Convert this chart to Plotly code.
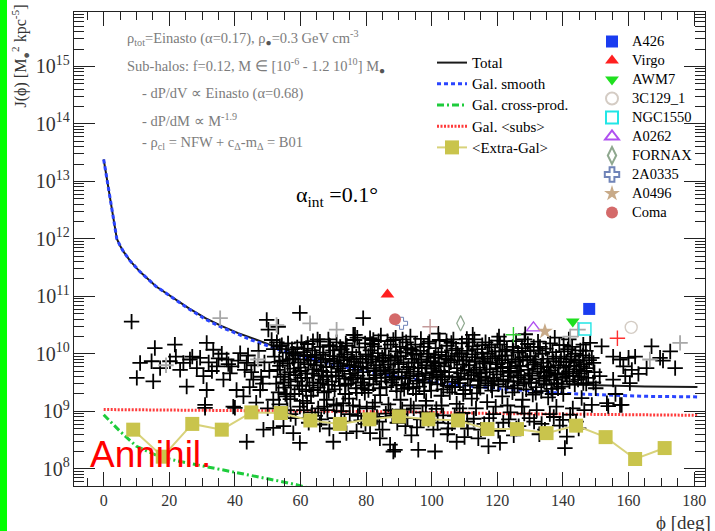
import numpy as np
import plotly.graph_objects as go

SERIF = "Liberation Serif"

# ---------------- curves (phi in deg, values as log10 J) ----------------
phi_curve = [0, 1, 2, 3, 4, 5, 6, 8, 11, 16, 21, 26, 31, 36, 41, 45, 50, 57, 65, 75,
             85, 95, 105, 115, 125, 135, 145, 155, 165, 181]
log_smooth = [13.38, 13.02, 12.66, 12.32, 12.00, 11.88, 11.78, 11.62, 11.43, 11.17, 10.97,
              10.78, 10.60, 10.46, 10.34, 10.24, 10.14, 10.00, 9.88, 9.75, 9.64, 9.55, 9.47,
              9.42, 9.37, 9.33, 9.30, 9.28, 9.26, 9.25]
log_total = [13.38, 13.02, 12.66, 12.32, 12.00, 11.88, 11.78, 11.62, 11.43, 11.17, 10.98,
             10.79, 10.62, 10.48, 10.36, 10.27, 10.17, 10.04, 9.93, 9.81, 9.72, 9.65, 9.59,
             9.55, 9.51, 9.48, 9.46, 9.44, 9.43, 9.42]
phi_subs = [0, 30, 60, 90, 120, 150, 181]
log_subs = [9.03, 9.02, 9.01, 8.99, 8.96, 8.94, 8.93]
phi_crossprod = [0, 5, 10, 17, 23, 33, 44, 54, 59, 64]
log_crossprod = [8.94, 8.65, 8.39, 8.21, 8.13, 8.02, 7.90, 7.78, 7.72, 7.64]

phi_extragal = [9, 18, 27, 36, 45, 54, 63, 72, 81, 90, 99, 108, 117, 126, 135, 144, 153, 162, 171]
log_extragal = [8.68, 8.21, 8.78, 8.68, 8.98, 8.97, 8.84, 8.78, 8.86, 8.91, 8.86, 8.84, 8.69,
                8.69, 8.62, 8.75, 8.55, 8.17, 8.36]

# ---------------- galaxy clusters ----------------
cluster_names = ["A426", "Virgo", "AWM7", "3C129_1", "NGC1550", "A0262", "FORNAX", "2A0335", "A0496", "Coma"]
cluster_phi = [148.0, 86.5, 143.0, 160.8, 146.7, 131.0, 108.8, 90.8, 134.5, 88.8]
cluster_log = [10.78, 11.03, 10.56, 10.46, 10.43, 10.45, 10.53, 10.53, 10.39, 10.60]
cluster_symbols = ["square", "triangle-up", "triangle-down", "circle-open", "square-open",
                   "triangle-up-open", "diamond-tall-open", "cross-open", "star", "circle"]
cluster_colors = ["#1a3cf0", "#ff2020", "#1fe01f", "#d4ccc4", "#22e6e6", "#b050f0",
                  "#8fa88f", "#7084b8", "#c8aa88", "#d46a6a"]
cluster_sizes = [12, 12, 12, 12, 12, 12, 11, 10, 12, 12]
cluster_linew = [0, 0, 0, 1.4, 1.4, 1.4, 1.2, 1.0, 0, 0]

# other (unlabelled) coloured crosses
other_phi = [99.5, 124.9, 156.6]
other_log = [10.47, 10.33, 10.27]
other_colors = ["#c49a9a", "#33cc33", "#ff3030"]

# ---------------- sub-halo crosses (phi, log10 J) ----------------
crosses_gray = [(35.5, 10.62), (52.7, 10.50), (62.9, 10.53), (71.0, 10.42), (142.2, 10.30),
                (175.7, 10.19), (166.5, 9.90), (144.6, 10.42), (19.0, 9.80), (47.0, 9.90)]

crosses_sparse = [
    (8.5, 10.56), (15.6, 10.10), (21.7, 10.16), (11.1, 9.84), (14.6, 9.87), (17.2, 9.75), (20.2, 9.87),
    (10.1, 9.58), (15.1, 9.52), (24.3, 9.84), (26.3, 9.90), (23.3, 9.72), (25.3, 9.43), (29.4, 9.93),
    (31.4, 10.19), (33.4, 10.07), (28.4, 9.75), (30.4, 9.61), (31.4, 9.37), (30.9, 9.06), (34.5, 9.78),
    (37.5, 9.90), (36.5, 9.55), (38.5, 9.66), (39.5, 9.08), (40.5, 9.37), (41.6, 10.01), (43.6, 9.84),
    (45.6, 9.55), (42.6, 9.26), (47.7, 9.37), (49.7, 10.59), (50.2, 10.42), (51.2, 10.24), (53.7, 10.13),
    (59.8, 10.71), (65.9, 10.21), (76.1, 10.33), (79.1, 10.62), (82.2, 10.24), (88.3, 10.24), (51.7, 9.20),
    (55.8, 9.26), (59.8, 9.08), (63.9, 9.37), (68.0, 9.20), (73.0, 9.14), (77.1, 9.32), (53.2, 10.47),
    (76.6, 10.33), (27.0, 9.95), (32.0, 9.85), (35.0, 9.92), (36.0, 10.00), (39.0, 9.78), (41.0, 9.88),
    (44.0, 9.97), (46.0, 9.80), (47.2, 10.05), (45.0, 9.68), (43.0, 9.72), (48.0, 9.60), (38.0, 9.82),
    (33.0, 9.70), (22.0, 9.95), (49.0, 9.85), (50.5, 9.70), (48.5, 9.48), (44.5, 9.42),
]

crosses_low = [
    (43.6, 8.47), (48.7, 8.68), (51.7, 8.71), (54.8, 8.74), (57.8, 8.62), (59.8, 8.45), (70.0, 8.47),
    (65.9, 8.77), (77.1, 8.65), (84.2, 8.53), (87.3, 8.42), (88.3, 8.30), (81.2, 8.62), (95.9, 8.33),
    (101.0, 8.30), (117.3, 8.39), (120.8, 8.45), (114.2, 8.53), (140.6, 8.36), (141.2, 8.56),
    (107.6, 8.47), (88.8, 8.33), (40.0, 9.06), (30.9, 9.11),
    (61.0, 9.02), (64.5, 8.92), (67.2, 9.08), (70.5, 8.88), (72.4, 9.00), (75.0, 8.95), (78.5, 8.84),
    (80.2, 9.05), (83.3, 8.90), (86.0, 8.96), (89.5, 8.80), (91.0, 9.03), (92.6, 8.88), (95.5, 8.72),
    (97.2, 8.98), (99.0, 8.85), (100.5, 8.68), (103.5, 8.93), (106.2, 8.79), (109.5, 8.97), (111.0, 8.70),
    (112.8, 8.87), (116.0, 8.78), (118.8, 8.95), (120.3, 8.66), (123.5, 8.86), (126.5, 8.74),
    (128.2, 8.96), (131.2, 8.82), (134.5, 8.68), (137.2, 8.90), (139.0, 8.75), (142.2, 8.94),
    (144.0, 8.82), (57.0, 8.95), (62.5, 8.80), (68.8, 8.70), (74.0, 8.62), (85.0, 8.68), (93.8, 8.58),
    (104.8, 8.60), (110.0, 8.55), (125.0, 8.58), (132.8, 8.60),
    (46.5, 9.15), (50.0, 9.05), (53.5, 9.12), (56.0, 9.02), (58.5, 8.88), (62.0, 9.14), (63.5, 8.98),
    (66.3, 8.86), (68.2, 9.02), (71.0, 9.10), (73.4, 8.82), (76.0, 9.10), (77.5, 8.92), (79.8, 8.78),
    (82.0, 9.08), (84.0, 8.82), (86.8, 9.12), (88.0, 8.92), (90.5, 8.95), (92.0, 8.74), (94.5, 9.05),
    (96.6, 8.86), (98.2, 9.10), (100.0, 8.95), (101.8, 8.80), (103.0, 9.10), (105.0, 8.70), (107.0, 8.92),
    (108.5, 9.05), (110.8, 8.82), (113.5, 9.05), (115.0, 8.68), (117.5, 8.88), (119.5, 9.08),
    (121.8, 8.80), (124.0, 8.98), (125.8, 8.70), (127.5, 9.08), (129.8, 8.88), (132.0, 9.02),
    (133.5, 8.78), (136.0, 8.95), (138.0, 9.08), (140.0, 8.85), (143.0, 9.05), (144.8, 8.70), (146.5, 9.02),
]

crosses_right = [
    (145.7, 9.23), (148.8, 9.11), (153.8, 9.09), (157.4, 9.11), (167.0, 10.13), (169.6, 9.93),
    (172.7, 10.04), (174.2, 9.75), (165.5, 9.75), (162.0, 9.95), (160.0, 9.93), (160.4, 9.49),
    (151.8, 10.13), (148.3, 10.19), (155.3, 9.95), (157.4, 9.90), (158.4, 9.78), (159.0, 9.61),
    (153.4, 9.14), (157.9, 9.11), (161.0, 9.72), (146.2, 10.16), (149.3, 9.84), (151.2, 9.61),
    (146.2, 9.49), (155.3, 9.55), (170.5, 9.88), (150.0, 9.40), (156.0, 9.30), (163.0, 9.65),
    (84.5, 10.32), (93.5, 10.30), (102.0, 10.35), (112.5, 10.33), (120.5, 10.30), (128.5, 10.34),
    (137.5, 10.28), (141.8, 10.25),
]

crosses_core = [
    (52.1, 9.95), (53.0, 9.72), (52.6, 9.48), (51.8, 10.08), (53.3, 9.33),
    (54.6, 9.88), (53.9, 9.60), (54.3, 10.15), (55.0, 9.41), (53.7, 9.79),
    (55.6, 10.02), (56.4, 9.55), (56.1, 9.83), (55.4, 9.30), (56.8, 9.68), (56.2, 10.18),
    (57.7, 9.92), (57.0, 9.45), (58.0, 9.74), (57.4, 10.08), (56.9, 9.21),
    (59.3, 9.85), (58.5, 9.63), (59.0, 10.11), (59.6, 9.38), (58.4, 9.97), (59.1, 9.52),
    (60.0, 9.76), (60.9, 10.03), (60.5, 9.44), (61.1, 9.90), (60.2, 9.58), (60.7, 9.18),
    (62.2, 10.17), (61.5, 9.66), (62.4, 9.82), (61.7, 9.35), (62.0, 9.96),
    (63.1, 9.88), (63.9, 9.50), (63.6, 10.06), (64.1, 9.73), (63.2, 9.27), (63.8, 10.22),
    (65.5, 9.62), (64.8, 9.94), (65.3, 9.41), (65.9, 10.12), (64.9, 9.80), (65.4, 9.05),
    (66.2, 9.85), (67.0, 10.02), (66.7, 9.55), (66.4, 9.70), (67.2, 9.33), (66.9, 9.98),
    (68.7, 10.15), (67.9, 9.77), (68.4, 9.46), (68.9, 9.91), (68.1, 9.60), (68.5, 10.25),
    (69.4, 9.68), (70.2, 9.87), (69.9, 10.06), (70.4, 9.38), (69.6, 9.52), (70.1, 9.12),
    (71.8, 9.95), (71.0, 10.20), (71.5, 9.74), (72.0, 9.44), (71.2, 9.83), (71.7, 9.61),
    (72.6, 10.08), (73.4, 9.57), (73.1, 9.89), (73.6, 9.30), (72.8, 9.70), (73.3, 9.99),
    (74.9, 9.80), (74.1, 10.14), (74.6, 9.48), (75.1, 9.65), (74.3, 9.93), (74.8, 9.22),
    (75.8, 10.03), (76.6, 9.72), (76.3, 9.86), (76.9, 9.40), (76.0, 9.58), (76.5, 10.24),
    (78.2, 9.91), (77.4, 9.62), (77.9, 10.11), (78.4, 9.50), (77.6, 9.77), (78.0, 9.08),
    (78.9, 9.84), (79.7, 10.18), (79.4, 9.45), (79.9, 9.99), (79.1, 9.68), (79.6, 9.32),
    (81.3, 10.06), (80.5, 9.74), (81.0, 9.56), (81.5, 9.90), (80.7, 9.37), (81.2, 10.27),
    (82.0, 9.95), (82.8, 9.63), (82.5, 10.13), (83.0, 9.80), (82.2, 9.47), (82.7, 9.15),
    (84.4, 9.70), (83.6, 10.01), (84.1, 9.86), (84.6, 9.52), (83.8, 10.22), (84.3, 9.28),
    (85.2, 9.88), (86.0, 9.59), (85.7, 10.09), (86.2, 9.42), (85.4, 9.76), (85.9, 9.97),
    (87.5, 10.16), (86.7, 9.81), (87.2, 9.66), (87.7, 9.50), (86.9, 9.93), (87.4, 9.02),
    (88.3, 9.73), (89.1, 10.04), (88.8, 9.89), (89.3, 9.35), (88.5, 9.60), (89.0, 10.28),
    (90.6, 9.96), (89.8, 9.68), (90.3, 10.12), (90.8, 9.46), (90.0, 9.82), (90.5, 9.20),
    (91.4, 9.85), (92.2, 10.20), (91.9, 9.57), (92.4, 9.73), (91.6, 9.39), (92.1, 10.02),
    (93.7, 10.07), (92.9, 9.77), (93.4, 9.62), (93.9, 9.91), (93.1, 9.48), (93.6, 9.10),
    (94.5, 9.69), (95.3, 9.98), (95.0, 10.16), (95.5, 9.53), (94.7, 9.84), (95.2, 9.30),
    (96.8, 9.90), (96.0, 9.61), (96.5, 10.05), (97.0, 9.75), (96.2, 9.43), (96.7, 10.26),
    (97.6, 10.12), (98.4, 9.80), (98.1, 9.66), (98.6, 9.95), (97.8, 9.50), (98.3, 9.18),
    (99.9, 9.74), (99.1, 10.00), (99.6, 9.87), (100.1, 9.58), (99.3, 10.21), (99.8, 9.36),
    (100.7, 9.93), (101.5, 9.64), (101.2, 10.10), (101.7, 9.47), (100.9, 9.79), (101.4, 9.04),
    (103.0, 10.03), (102.2, 9.83), (102.7, 9.70), (103.2, 9.55), (102.4, 10.24), (102.9, 9.27),
    (103.8, 9.78), (104.6, 10.14), (104.3, 9.92), (104.8, 9.44), (104.0, 9.61), (104.5, 9.96),
    (106.1, 10.06), (105.3, 9.68), (105.8, 9.85), (106.3, 9.51), (105.5, 9.33), (106.0, 10.19),
    (106.9, 9.88), (107.7, 9.75), (107.4, 10.09), (107.9, 9.60), (107.1, 9.42), (107.6, 9.13),
    (109.2, 10.18), (108.4, 9.95), (108.9, 9.66), (109.4, 9.81), (108.6, 9.49), (109.1, 10.01),
    (110.0, 9.71), (110.8, 10.05), (110.5, 9.89), (111.0, 9.56), (110.2, 9.37), (110.7, 10.26),
    (112.3, 9.99), (111.5, 9.80), (112.0, 9.63), (112.5, 10.13), (111.7, 9.45), (112.2, 9.22),
    (113.1, 9.86), (113.9, 10.08), (113.6, 9.72), (114.1, 9.53), (113.3, 9.94), (113.8, 9.31),
    (115.4, 10.15), (114.6, 9.76), (115.1, 9.60), (115.6, 9.91), (114.8, 9.41), (115.3, 10.02),
    (116.2, 9.83), (117.0, 10.00), (116.7, 9.68), (117.2, 9.49), (116.4, 10.20), (116.9, 9.16),
    (118.5, 9.95), (117.7, 9.73), (118.2, 10.11), (118.7, 9.58), (117.9, 9.85), (118.4, 9.36),
    (119.3, 10.04), (120.1, 9.82), (119.8, 9.64), (120.3, 9.47), (119.5, 9.92), (120.0, 10.23),
    (121.6, 9.77), (120.8, 10.16), (121.3, 9.89), (121.8, 9.55), (121.0, 9.69), (121.5, 9.26),
    (122.4, 9.97), (123.2, 9.84), (122.9, 10.07), (123.4, 9.61), (122.6, 9.43), (123.1, 9.10),
    (124.7, 10.12), (123.9, 9.75), (124.4, 9.90), (124.9, 9.52), (124.1, 9.67), (124.6, 9.33),
    (125.5, 9.86), (126.3, 10.02), (126.0, 9.70), (126.5, 9.59), (125.7, 10.22), (126.2, 9.45),
    (127.8, 9.94), (127.0, 9.79), (127.5, 10.10), (128.0, 9.48), (127.2, 9.63), (127.7, 9.20),
    (128.6, 10.05), (129.4, 9.72), (129.1, 9.88), (129.6, 9.56), (128.8, 9.38), (129.3, 10.17),
    (130.9, 9.81), (130.1, 9.96), (130.6, 9.66), (131.1, 10.12), (130.3, 9.50), (130.8, 9.29),
    (131.7, 9.90), (132.5, 10.06), (132.2, 9.74), (132.7, 9.57), (131.9, 9.42), (132.4, 10.21),
    (134.0, 9.84), (133.2, 9.69), (133.7, 10.00), (134.2, 9.53), (133.4, 9.35),
    (134.8, 10.09), (135.6, 9.77), (135.3, 9.91), (135.8, 9.62), (135.0, 9.46), (135.5, 9.24),
    (137.1, 9.87), (136.3, 9.71), (136.8, 10.03), (137.3, 9.55), (136.5, 9.39),
    (137.9, 9.95), (138.7, 9.80), (138.4, 9.64), (138.9, 10.15), (138.1, 9.49),
    (140.2, 9.76), (139.4, 9.92), (139.9, 9.58), (140.4, 10.04), (139.6, 9.43), (140.1, 9.30),
    (141.0, 9.86), (141.8, 9.69), (141.5, 10.08), (142.0, 9.52), (141.2, 9.61),
    (143.4, 9.79), (142.6, 9.95), (143.1, 9.62), (143.6, 9.47), (142.8, 10.12),
    (144.1, 9.73), (144.9, 9.88), (144.6, 9.55), (145.1, 9.66),
    (146.4, 9.82), (145.6, 9.60), (146.1, 9.97), (146.6, 9.70),
    (147.2, 9.75), (148.0, 9.89), (147.7, 9.58),
    (149.6, 9.68), (148.8, 9.93), (149.3, 9.50),
    # second pass
    (53.5, 9.86), (55.2, 9.64), (57.9, 10.00), (59.9, 9.70), (61.2, 10.09), (62.7, 9.45), (64.4, 9.98),
    (66.0, 9.49), (67.6, 9.90), (69.0, 10.13), (70.8, 9.62), (72.2, 9.78), (73.8, 10.18), (75.4, 9.55),
    (77.0, 9.95), (78.7, 9.40), (80.1, 9.85), (81.8, 10.17), (83.2, 9.58), (84.9, 9.93), (86.5, 10.22),
    (88.0, 9.55), (89.6, 9.95), (91.1, 10.25), (92.7, 9.42), (94.2, 10.00), (95.8, 9.76), (97.3, 9.55),
    (98.9, 10.18), (100.4, 9.68), (102.0, 9.98), (103.5, 9.38), (105.1, 9.90), (106.6, 10.25),
    (108.2, 9.55), (109.7, 9.88), (111.3, 10.20), (112.8, 9.68), (114.4, 9.45), (115.9, 9.87),
    (117.5, 10.16), (119.0, 9.52), (120.6, 9.96), (122.1, 10.22), (123.7, 9.70), (125.2, 9.40),
    (126.8, 9.90), (128.3, 10.25), (129.9, 9.62), (131.4, 9.85), (133.0, 10.12), (134.5, 9.60),
    (136.1, 10.18), (137.6, 9.66), (139.2, 9.86), (140.7, 9.66), (142.3, 9.90), (143.8, 10.00),
    (145.4, 9.78), (147.0, 10.05),
    (52.8, 10.20), (54.8, 9.50), (56.6, 9.90), (58.2, 9.30), (60.3, 10.20), (62.0, 9.58), (63.6, 9.65),
    (65.2, 10.25), (66.9, 9.62), (68.6, 9.35), (70.3, 9.96), (72.1, 10.12), (73.7, 9.46), (75.5, 9.90),
    (77.3, 10.28), (79.0, 9.57), (80.7, 9.96), (82.4, 9.70), (84.1, 9.40), (85.8, 9.66), (87.5, 9.88),
    (89.2, 9.45), (90.9, 9.58), (92.6, 10.10), (94.3, 9.40), (96.0, 9.85), (97.7, 9.35), (99.4, 9.50),
    (101.1, 9.85), (102.8, 9.60), (104.5, 10.22), (106.2, 9.42), (107.9, 10.00), (109.6, 9.30),
    (111.3, 9.72), (113.0, 10.25), (114.7, 9.66), (116.4, 9.58), (118.1, 9.45), (119.8, 9.75),
    (121.5, 10.04), (123.2, 9.52), (124.9, 10.05), (126.6, 9.78), (128.3, 9.55), (130.0, 10.05),
    (131.7, 9.32), (133.4, 9.78), (135.1, 9.68), (136.8, 9.30), (138.5, 9.40), (140.2, 10.15),
    (141.9, 9.78), (143.6, 9.85), (145.3, 10.06), (147.1, 9.48),
]


def J(logs):
    return np.power(10.0, np.asarray(logs, dtype=float))


def leg(txt, size):
    return f"<span style='font-size:{size}px'>{txt}</span>"


fig = go.Figure()

# Galactic curves (drawn first, behind the crosses)
fig.add_trace(go.Scatter(x=phi_subs, y=J(log_subs), mode="lines", name=leg("Gal. &lt;subs&gt;", 15),
                         line=dict(color="#ff3b3b", width=3, dash="2px,1.5px"), legendrank=4))
fig.add_trace(go.Scatter(x=phi_crossprod, y=J(log_crossprod), mode="lines", name=leg("Gal. cross-prod.", 15),
                         line=dict(color="#1ecc3c", width=3, dash="7px,3px,2px,3px"), legendrank=3))
fig.add_trace(go.Scatter(x=phi_curve, y=J(log_total), mode="lines", name=leg("Total", 15),
                         line=dict(color="#1a1a1a", width=2), legendrank=1))
fig.add_trace(go.Scatter(x=phi_curve, y=J(log_smooth), mode="lines", name=leg("Gal. smooth", 15),
                         line=dict(color="#2a44ff", width=3, dash="4px,3px"), legendrank=2))

# sub-halo crosses
black_pts = crosses_sparse + crosses_low + crosses_right + crosses_core
bx, by = zip(*black_pts)
fig.add_trace(go.Scatter(x=bx, y=J(by), mode="markers", showlegend=False,
                         marker=dict(symbol="cross-thin", size=11,
                                     line=dict(color="black", width=1.8))))
gx, gy = zip(*crosses_gray)
fig.add_trace(go.Scatter(x=gx, y=J(gy), mode="markers", showlegend=False,
                         marker=dict(symbol="cross-thin", size=11,
                                     line=dict(color="#a8a8a8", width=1.8))))
fig.add_trace(go.Scatter(x=other_phi, y=J(other_log), mode="markers", showlegend=False,
                         marker=dict(symbol="cross-thin", size=11,
                                     line=dict(color=other_colors, width=1.4))))

# extra-galactic
fig.add_trace(go.Scatter(x=phi_extragal, y=J(log_extragal), mode="lines+markers",
                         name=leg("&lt;Extra-Gal&gt;", 15),
                         line=dict(color="#d8d27a", width=2),
                         marker=dict(symbol="square", size=14, color="#c9c44c"), legendrank=5))

# clusters
for i, nm in enumerate(cluster_names):
    fig.add_trace(go.Scatter(
        x=[cluster_phi[i]], y=J([cluster_log[i]]), mode="markers", name=leg(nm, 14.5), legend="legend2",
        marker=dict(symbol=cluster_symbols[i], size=cluster_sizes[i], color=cluster_colors[i],
                    line=dict(color=cluster_colors[i], width=cluster_linew[i]))))

# ---------------- layout ----------------
L, R, T, B = 74, 10, 12, 45
W, H = 715, 531
PW, PH = W - L - R, H - T - B


def px(xp):
    return (xp - L) / PW


def py(yp):
    return (H - B - yp) / PH


fig.update_layout(
    width=W, height=H, margin=dict(l=L, r=R, t=T, b=B),
    paper_bgcolor="white", plot_bgcolor="white",
    font=dict(family=SERIF, color="black"),
    hovermode=False,
    legend=dict(x=px(432), y=py(47), xanchor="left", yanchor="top", bgcolor="rgba(0,0,0,0)",
                font=dict(family=SERIF, size=14, color="black"), itemwidth=30, tracegroupgap=0),
    legend2=dict(x=px(592), y=py(27), xanchor="left", yanchor="top", bgcolor="rgba(0,0,0,0)",
                 font=dict(family=SERIF, size=12, color="black"), itemwidth=30, tracegroupgap=0,
                 itemsizing="constant"),
    xaxis=dict(range=[-9.05, 183.3], tick0=0, dtick=20, ticks="inside", ticklen=14, tickwidth=1,
               tickcolor="#222", showline=True, linecolor="#222", linewidth=1, mirror="ticks",
               showgrid=False, zeroline=False, tickfont=dict(family=SERIF, size=16, color="#333"),
               minor=dict(dtick=5, ticks="inside", ticklen=8, tickcolor="#222", showgrid=False)),
    yaxis=dict(type="log", range=[7.70, 15.945], dtick=1, exponentformat="power",
               ticks="inside", ticklen=21, tickwidth=1, tickcolor="#222", showline=True,
               linecolor="#222", linewidth=1, mirror="ticks", showgrid=False, zeroline=False,
               tickfont=dict(family=SERIF, size=16, color="#333"),
               minor=dict(dtick="D1", ticks="inside", ticklen=10, tickcolor="#222", showgrid=False)),
)

gray = "#7c7c7c"
dot = "<span style='color:#555'>●</span>"
notes = [
    (125, 38, f"ρ<sub>tot</sub>=Einasto (α=0.17), ρ<sub>{dot}</sub>=0.3 GeV cm<sup>-3</sup>"),
    (125, 66, f"Sub-halos: f=0.12, M ∈ [10<sup>-6</sup> - 1.2 10<sup>10</sup>] M<sub>{dot}</sub>"),
    (140, 93, "- dP/dV ∝ Einasto (α=0.68)"),
    (140, 120, "- dP/dM ∝ M<sup>-1.9</sup>"),
    (140, 143, "- ρ<sub>cl</sub> = NFW + c<sub>Δ</sub>-m<sub>Δ</sub> = B01"),
]
for xp, yp, txt in notes:
    fig.add_annotation(x=px(xp), y=py(yp), xref="paper", yref="paper", text=txt, showarrow=False,
                       xanchor="left", yanchor="middle", font=dict(family=SERIF, size=14.5, color=gray))

fig.add_annotation(x=px(294), y=py(196), xref="paper", yref="paper", text="α<sub>int</sub> =0.1°",
                   showarrow=False, xanchor="left", yanchor="middle",
                   font=dict(family=SERIF, size=22, color="black"))
fig.add_annotation(x=px(88), y=py(454), xref="paper", yref="paper", text="Annihil.",
                   showarrow=False, xanchor="left", yanchor="middle",
                   font=dict(family="Liberation Sans", size=37, color="#ff0000"))
fig.add_annotation(x=px(21), y=py(3), xref="paper", yref="paper",
                   text=f"J(ϕ) [M<sub>{dot}</sub><sup>2</sup> kpc<sup>-5</sup>]", textangle=-90,
                   showarrow=False, xanchor="center", yanchor="top",
                   font=dict(family=SERIF, size=16, color="#333"))
fig.add_annotation(x=px(654), y=py(522), xref="paper", yref="paper", text="ϕ [deg]",
                   showarrow=False, xanchor="left", yanchor="middle",
                   font=dict(family=SERIF, size=19, color="#333"))

# green strip at the left edge of the picture
fig.add_shape(type="rect", xref="paper", yref="paper", x0=px(0), x1=px(7), y0=py(H), y1=py(0),
              fillcolor="#00ff00", line=dict(width=0), layer="above")

fig.write_html("out.html", config={"displayModeBar": False})
